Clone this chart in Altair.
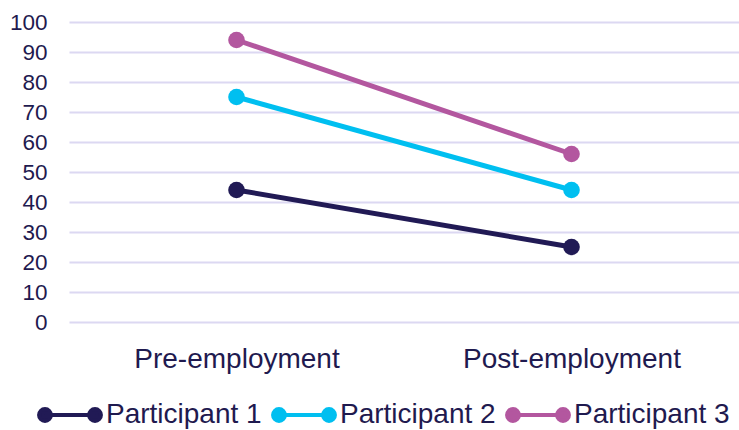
import altair as alt
import pandas as pd

# Scores before and after employment for each participant
phases = ["Pre-employment", "Post-employment"]
participants = ["Participant 1", "Participant 2", "Participant 3"]
participant_1 = [44, 25]
participant_2 = [75, 44]
participant_3 = [94, 56]
y_ticks = list(range(0, 101, 10))

colors = ["#211a55", "#00bff0", "#b3579f"]
text_color = "#1f1a4f"
grid_color = "#dcd8f2"
font = "Liberation Sans"

rows = []
for name, values in zip(participants, [participant_1, participant_2, participant_3]):
    for phase, value in zip(phases, values):
        rows.append({"phase": phase, "participant": name, "score": value})
df = pd.DataFrame(rows)

color_scale = alt.Scale(domain=participants, range=colors)

# Legend swatch: a short line with a dot at each end
swatch = (
    "M-0.758,0 L0.758,0 "
    "M-0.938,0 A0.18,0.18 0 1,0 -0.578,0 A0.18,0.18 0 1,0 -0.938,0 Z "
    "M0.578,0 A0.18,0.18 0 1,0 0.938,0 A0.18,0.18 0 1,0 0.578,0 Z"
)

legend = alt.Legend(
    title=None,
    orient="none",
    direction="horizontal",
    legendX=-34,
    legendY=358,
    padding=0,
    symbolType=swatch,
    symbolSize=4356,
    symbolStrokeWidth=4,
    symbolOpacity=1,
    labelFont=font,
    labelFontSize=28,
    labelColor=text_color,
    labelOffset=1,
    labelLimit=400,
    columnPadding=3,
)

x = alt.X(
    "phase:N",
    sort=phases,
    title=None,
    axis=alt.Axis(
        labelAngle=0,
        labelFont=font,
        labelFontSize=28,
        labelColor=text_color,
        labelPadding=23,
        labelLimit=400,
        ticks=False,
        domain=False,
        grid=False,
    ),
)
y = alt.Y(
    "score:Q",
    title=None,
    scale=alt.Scale(domain=[0, 100], nice=False),
    axis=alt.Axis(
        values=y_ticks,
        labelFont=font,
        labelFontSize=22.5,
        labelColor=text_color,
        labelPadding=22,
        ticks=False,
        domain=False,
        grid=True,
        gridColor=grid_color,
        gridWidth=2,
    ),
)

lines = alt.Chart(df).mark_line(strokeWidth=5).encode(
    x=x,
    y=y,
    stroke=alt.Stroke("participant:N", scale=color_scale, legend=legend),
)

dots = alt.Chart(df).mark_point(filled=True, size=276, opacity=1, strokeWidth=0).encode(
    x=x,
    y=y,
    fill=alt.Fill("participant:N", scale=color_scale, legend=legend),
    stroke=alt.Stroke("participant:N", scale=color_scale, legend=legend),
)

chart = (
    alt.layer(lines, dots)
    .properties(
        width=670,
        height=300,
        autosize=alt.AutoSizeParams(type="none"),
        padding={"left": 69, "top": 22, "right": 0, "bottom": 108},
        background="white",
    )
    .configure_view(stroke=None)
)

chart.save("out.html", embed_options={"renderer": "svg", "actions": False})
